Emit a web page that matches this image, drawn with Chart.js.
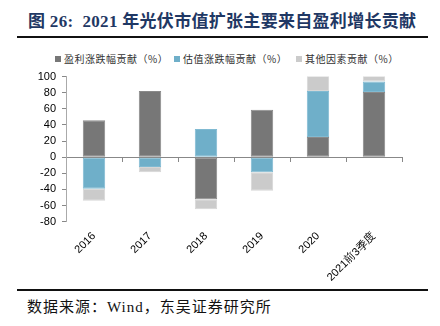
<!DOCTYPE html>
<html>
<head>
<meta charset="utf-8">
<script src="https://cdn.jsdelivr.net/npm/chart.js@4/dist/chart.umd.min.js"></script>
<style>
  body { margin: 0; width: 440px; height: 326px; background: #fff; position: relative; overflow: hidden; }
  .title { position: absolute; left: 28px; top: 7px; font: bold 17px "Liberation Serif", "Noto Sans CJK SC", serif; color: #1f3864; white-space: nowrap; letter-spacing: 0.3px; }
  .rule { position: absolute; left: 17px; width: 411px; height: 2px; background: #111; }
  .source { position: absolute; left: 27px; top: 295px; font: 15px "Liberation Serif", "Noto Sans CJK SC", serif; color: #111; white-space: nowrap; letter-spacing: 1px; }
  #legend { position: absolute; top: 51px; left: 0; width: 440px; font: 10px "Noto Sans CJK SC", sans-serif; color: #333; letter-spacing: 0.5px; }
  #legend span.item { position: absolute; white-space: nowrap; }
  #legend i { display: inline-block; width: 6px; height: 6px; margin-right: 3px; vertical-align: 1px; }
  #wrap { position: absolute; left: 0; top: 64px; width: 440px; height: 220px; }
</style>
</head>
<body>
<div class="title">图 26:&nbsp; 2021 年光伏市值扩张主要来自盈利增长贡献</div>
<div class="rule" style="top:36px"></div>
<div id="legend"></div>
<div id="wrap"><canvas id="chart"></canvas></div>
<div class="rule" style="top:289px"></div>
<div class="source">数据来源：Wind，东吴证券研究所</div>
<script>
const categories = ['2016', '2017', '2018', '2019', '2020', '2021前3季度'];
const seriesNames = ['盈利涨跌幅贡献（%）', '估值涨跌幅贡献（%）', '其他因素贡献（%）'];
const profitShare = [46, 82, -52, 59, 25, 81];
const valuationShare = [-39, -12, 35, -18.5, 57, 13];
const otherShare = [-15, -6.5, -12.5, -23, 19, 7];
const yTicks = { min: -80, max: 100, step: 20 };

const colors = ['#777777', '#6fafc9', '#cbcbcb'];
const edges = ['#8a8a8a', '#80bad2', '#d6d6d6'];
const legendX = [55, 174, 296];
const tickFont = { family: 'Liberation Sans, Arial', size: 11 };

const legend = document.getElementById('legend');
seriesNames.forEach((name, i) => {
    legend.insertAdjacentHTML('beforeend',
        `<span class="item" style="left:${legendX[i]}px"><i style="background:${colors[i]}"></i>${name}</span>`);
});

const values = [profitShare, valuationShare, otherShare];

new Chart(document.getElementById('chart'), {
    type: 'bar',
    data: {
        labels: categories,
        datasets: values.map((data, i) => ({
            label: seriesNames[i], data,
            backgroundColor: colors[i], borderColor: edges[i], borderWidth: 1, borderSkipped: false, xAxisID: 'x'
        }))
    },
    options: {
        responsive: true,
        maintainAspectRatio: false,
        animation: false,
        datasets: { bar: { barPercentage: 0.4, categoryPercentage: 1 } },
        layout: { padding: { left: 0, right: 38, top: 0, bottom: 0 } },
        plugins: {
            tooltip: { enabled: false },
            legend: { display: false }
        },
        scales: {
            x: {
                stacked: true,
                position: { y: 0 },
                ticks: { display: false },
                grid: { offset: true, drawOnChartArea: false, drawTicks: true, tickLength: 4, tickColor: '#888', color: '#888' },
                border: { color: '#888', width: 1 }
            },
            x2: {
                type: 'category',
                labels: categories,
                position: 'bottom',
                grid: { display: false },
                border: { display: false },
                ticks: { minRotation: 45, maxRotation: 45, color: '#000', font: tickFont, padding: 0 }
            },
            y: {
                stacked: true,
                min: yTicks.min,
                max: yTicks.max,
                afterFit: (scale) => { scale.width = 66; },
                ticks: { stepSize: yTicks.step, autoSkip: false, color: '#000', font: tickFont, padding: 6 },
                grid: { drawOnChartArea: false, drawTicks: true, tickLength: 4, color: '#888' },
                border: { color: '#aaa', width: 1 }
            }
        }
    }
});
</script>
</body>
</html>
